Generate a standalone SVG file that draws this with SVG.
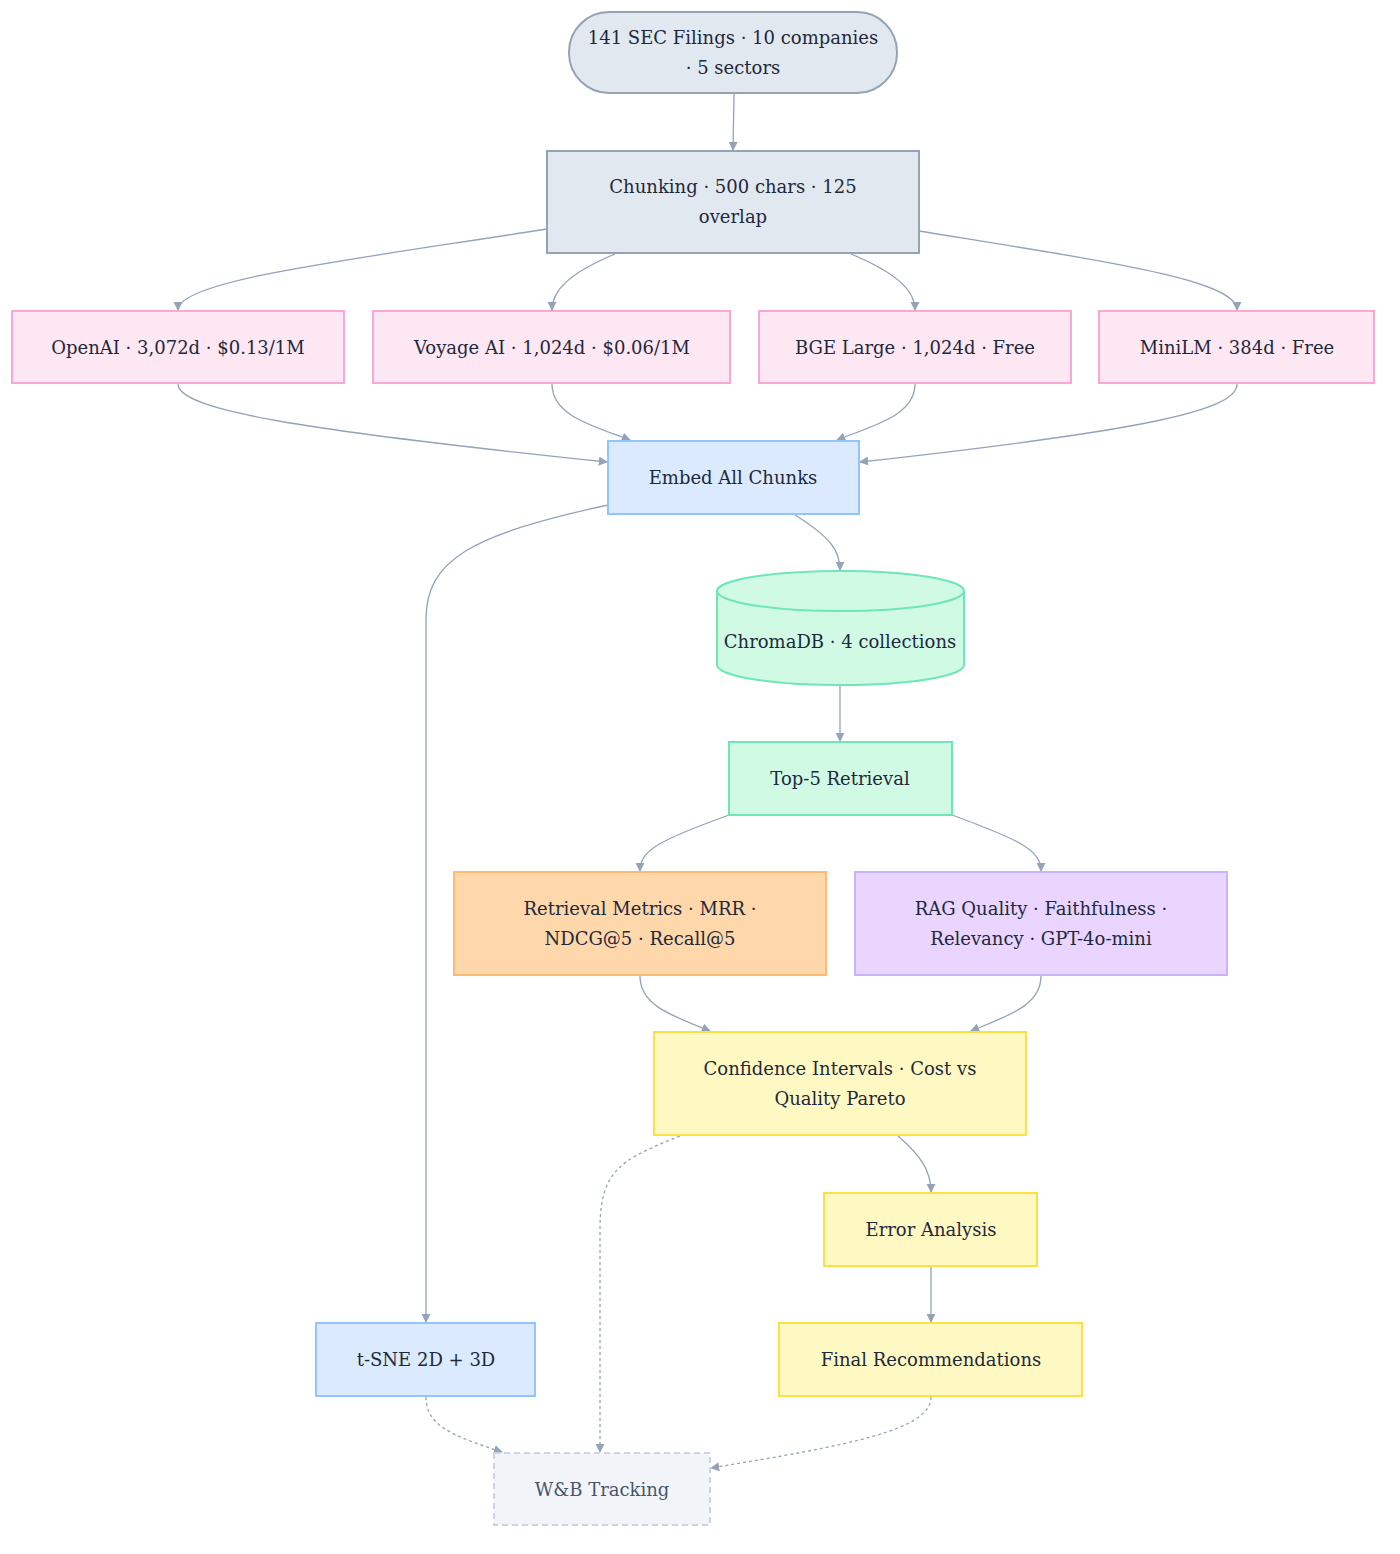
<svg xmlns="http://www.w3.org/2000/svg" width="1400" height="1554" viewBox="0 0 1400 1554">
<style>
text{font-family:"DejaVu Serif","Liberation Serif",serif;font-size:18px;fill:#1e293b;text-anchor:middle}
.e{fill:none;stroke:#94a3b8;stroke-width:1.3}
.d{stroke-dasharray:3 3}
.g{fill:#e2e8f0;stroke:#94a3b8;stroke-width:2}
.p{fill:#fce7f3;stroke:#f9a8d4;stroke-width:2}
.b{fill:#dbeafe;stroke:#93c5fd;stroke-width:2}
.m{fill:#d1fae5;stroke:#6ee7b7;stroke-width:2}
.o{fill:#fed7aa;stroke:#fdba74;stroke-width:2}
.v{fill:#e9d5ff;stroke:#c4b5fd;stroke-width:2}
.y{fill:#fef9c3;stroke:#fde047;stroke-width:2}
.w{fill:#f1f5f9;stroke:#cbd5e1;stroke-width:2;stroke-dasharray:6 4}
</style>
<defs><marker id="a" viewBox="0 0 10 10" refX="9" refY="5" markerWidth="7" markerHeight="7" orient="auto"><path d="M0,0L10,5L0,10z" fill="#94a3b8"/></marker></defs>
<rect width="1400" height="1554" fill="#fff"/>
<g id="edges" marker-end="url(#a)">
<path class="e" d="M734,94L733,150"/>
<path class="e" d="M547,229C350,260 178,280 178,310"/>
<path class="e" d="M615,254C570,273 552,290 552,310"/>
<path class="e" d="M851,254C896,273 915,290 915,310"/>
<path class="e" d="M919,231C1110,262 1237,280 1237,310"/>
<path class="e" d="M178,384C178,410 300,430 607,462"/>
<path class="e" d="M552,384C552,415 590,425 630,440"/>
<path class="e" d="M915,384C915,415 875,425 837,440"/>
<path class="e" d="M1237,384C1237,410 1150,430 860,462"/>
<path class="e" d="M608,505C470,535 426,560 426,620L426,1322"/>
<path class="e" d="M795,515C830,537 840,550 840,570"/>
<path class="e" d="M840,686L840,741"/>
<path class="e" d="M729,815C660,840 640,850 640,871"/>
<path class="e" d="M952,815C1020,840 1041,850 1041,871"/>
<path class="e" d="M640,976C640,1005 670,1015 710,1031"/>
<path class="e" d="M1041,976C1041,1005 1010,1015 971,1031"/>
<path class="e" d="M898,1136C920,1155 931,1170 931,1192"/>
<path class="e" d="M931,1267L931,1322"/>
<path class="e d" d="M680,1136C620,1160 600,1170 600,1230L600,1452"/>
<path class="e d" d="M426,1397C426,1425 450,1435 502,1452"/>
<path class="e d" d="M931,1397C931,1430 850,1445 711,1468"/>
</g>
<g id="n1"><rect class="g" x="569" y="12" width="328" height="81" rx="40"/><text x="733" y="44">141 SEC Filings · 10 companies</text><text x="733" y="74">· 5 sectors</text></g>
<g id="n2"><rect class="g" x="547" y="151" width="372" height="102"/><text x="733" y="193">Chunking · 500 chars · 125</text><text x="733" y="223">overlap</text></g>
<g id="n3"><rect class="p" x="12" y="311" width="332" height="72"/><text x="178" y="354">OpenAI · 3,072d · $0.13/1M</text></g>
<g id="n4"><rect class="p" x="373" y="311" width="357" height="72"/><text x="552" y="354">Voyage AI · 1,024d · $0.06/1M</text></g>
<g id="n5"><rect class="p" x="759" y="311" width="312" height="72"/><text x="915" y="354">BGE Large · 1,024d · Free</text></g>
<g id="n6"><rect class="p" x="1099" y="311" width="275" height="72"/><text x="1237" y="354">MiniLM · 384d · Free</text></g>
<g id="n7"><rect class="b" x="608" y="441" width="251" height="73"/><text x="733" y="484">Embed All Chunks</text></g>
<g id="n8"><path class="m" d="M717,591A123,20 0 0 1 964,591L964,665A123,20 0 0 1 717,665Z"/><path class="m" d="M717,591A123,20 0 0 0 964,591" fill="none"/><text x="840" y="648">ChromaDB · 4 collections</text></g>
<g id="n9"><rect class="m" x="729" y="742" width="223" height="73"/><text x="840" y="785">Top-5 Retrieval</text></g>
<g id="n10"><rect class="o" x="454" y="872" width="372" height="103"/><text x="640" y="915">Retrieval Metrics · MRR ·</text><text x="640" y="945">NDCG@5 · Recall@5</text></g>
<g id="n11"><rect class="v" x="855" y="872" width="372" height="103"/><text x="1041" y="915">RAG Quality · Faithfulness ·</text><text x="1041" y="945">Relevancy · GPT-4o-mini</text></g>
<g id="n12"><rect class="y" x="654" y="1032" width="372" height="103"/><text x="840" y="1075">Confidence Intervals · Cost vs</text><text x="840" y="1105">Quality Pareto</text></g>
<g id="n13"><rect class="y" x="824" y="1193" width="213" height="73"/><text x="931" y="1236">Error Analysis</text></g>
<g id="n14"><rect class="y" x="779" y="1323" width="303" height="73"/><text x="931" y="1366">Final Recommendations</text></g>
<g id="n15"><rect class="b" x="316" y="1323" width="219" height="73"/><text x="426" y="1366">t-SNE 2D + 3D</text></g>
<g id="n16"><rect class="w" x="494" y="1453" width="216" height="72"/><text x="602" y="1496" style="fill:#475569">W&amp;B Tracking</text></g>
</svg>
